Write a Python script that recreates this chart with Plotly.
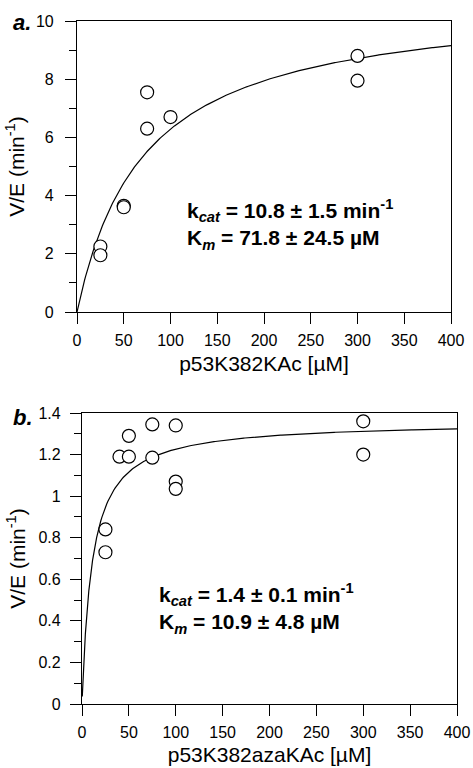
import numpy as np
import plotly.graph_objects as go

# ---- data ----
a_x = [25, 25, 50, 50, 75, 75, 100, 300, 300]
a_y = [2.25, 1.95, 3.65, 3.60, 7.55, 6.30, 6.70, 8.80, 7.95]
a_kcat = 10.8
a_km = 71.8

b_x = [25, 25, 40, 50, 50, 75, 75, 100, 100, 100, 300, 300]
b_y = [0.84, 0.73, 1.19, 1.29, 1.19, 1.345, 1.185, 1.34, 1.07, 1.035, 1.36, 1.20]
b_kcat = 1.36
b_km = 10.9

x_ticks = [0, 50, 100, 150, 200, 250, 300, 350, 400]
a_yticks = [0, 2, 4, 6, 8, 10]
b_yticks = [0, 0.2, 0.4, 0.6, 0.8, 1.0, 1.2, 1.4]
b_yticklabels = ["0", "0.2", "0.4", "0.6", "0.8", "1", "1.2", "1.4"]

W, H = 473, 768
FONT = "Liberation Sans, Arial, sans-serif"

def px_x(p):
    return p / W

def px_y(p):
    return 1 - p / H

xs_a = np.linspace(0, 400, 400)
xs_b = np.concatenate([np.linspace(0.3, 20, 200), np.linspace(20, 400, 300)])

fig = go.Figure()
fig.add_trace(go.Scatter(x=xs_a, y=a_kcat * xs_a / (a_km + xs_a), mode="lines",
                         line=dict(color="black", width=1.2), xaxis="x", yaxis="y",
                         showlegend=False, hoverinfo="skip"))
fig.add_trace(go.Scatter(x=a_x, y=a_y, mode="markers",
                         marker=dict(symbol="circle", size=13, color="white",
                                     line=dict(color="black", width=1.2)),
                         xaxis="x", yaxis="y", showlegend=False))
fig.add_trace(go.Scatter(x=xs_b, y=b_kcat * xs_b / (b_km + xs_b), mode="lines",
                         line=dict(color="black", width=1.2), xaxis="x2", yaxis="y2",
                         showlegend=False, hoverinfo="skip"))
fig.add_trace(go.Scatter(x=b_x, y=b_y, mode="markers",
                         marker=dict(symbol="circle", size=13, color="white",
                                     line=dict(color="black", width=1.2)),
                         xaxis="x2", yaxis="y2", showlegend=False))

tickfont = dict(family=FONT, size=16, color="black")
titlefont = dict(family=FONT, size=21, color="black")
common = dict(showline=True, linecolor="black", linewidth=1.2, mirror=True,
              ticks="outside", ticklen=11, tickwidth=1.2, tickcolor="black",
              showgrid=False, zeroline=False, tickfont=tickfont, automargin=False)

fig.update_layout(
    width=W, height=H,
    margin=dict(l=0, r=0, t=0, b=0),
    paper_bgcolor="white", plot_bgcolor="white",
    font=dict(family=FONT, color="black"),
    xaxis=dict(domain=[px_x(77), px_x(451)], range=[0, 400], tickvals=x_ticks,
               anchor="y", title=dict(text="p53K382KAc [µM]", font=titlefont, standoff=8),
               ticklabelstandoff=3, **common),
    yaxis=dict(domain=[px_y(312), px_y(21)], range=[0, 10], tickvals=a_yticks,
               anchor="x", title=dict(text="V/E (min<sup>-1</sup>)", font=titlefont, standoff=5),
               minor=dict(ticks="outside", ticklen=7, tickwidth=1.2, tickcolor="black", dtick=1, showgrid=False),
               ticklabelstandoff=8, **common),
    xaxis2=dict(domain=[px_x(82), px_x(457)], range=[0, 400], tickvals=x_ticks,
                anchor="y2", title=dict(text="p53K382azaKAc [µM]", font=titlefont, standoff=7),
                ticklabelstandoff=3, **common),
    yaxis2=dict(domain=[px_y(704), px_y(413)], range=[0, 1.4], tickvals=b_yticks,
                ticktext=b_yticklabels, anchor="x2",
                title=dict(text="V/E (min<sup>-1</sup>)", font=titlefont, standoff=7),
                minor=dict(ticks="outside", ticklen=7, tickwidth=1.2, tickcolor="black", dtick=0.1, showgrid=False),
                ticklabelstandoff=6, **common),
)

annfont = dict(family=FONT, size=21, color="black")
fig.add_annotation(x=115, y=3.0, xref="x", yref="y", xanchor="left", yanchor="middle", align="left",
                   text="<b>k<sub><i>cat</i></sub> = 10.8 ± 1.5 min<sup>-1</sup></b><br>"
                        "<b>K<sub><i>m</i></sub> = 71.8 ± 24.5 µM</b>",
                   showarrow=False, font=annfont)
fig.add_annotation(x=80, y=0.458, xref="x2", yref="y2", xanchor="left", yanchor="middle", align="left",
                   text="<b>k<sub><i>cat</i></sub> = 1.4 ± 0.1 min<sup>-1</sup></b><br>"
                        "<b>K<sub><i>m</i></sub> = 10.9 ± 4.8 µM</b>",
                   showarrow=False, font=annfont)

panelfont = dict(family=FONT, size=22, color="black")
fig.add_annotation(x=px_x(11), y=px_y(23), xref="paper", yref="paper", xanchor="left",
                   yanchor="middle", text="<b><i>a.</i></b>", showarrow=False, font=panelfont)
fig.add_annotation(x=px_x(11), y=px_y(417), xref="paper", yref="paper", xanchor="left",
                   yanchor="middle", text="<b><i>b.</i></b>", showarrow=False, font=panelfont)

fig.write_html("out.html", config={"displayModeBar": False},
               post_script="document.body.style.margin='0px';")
